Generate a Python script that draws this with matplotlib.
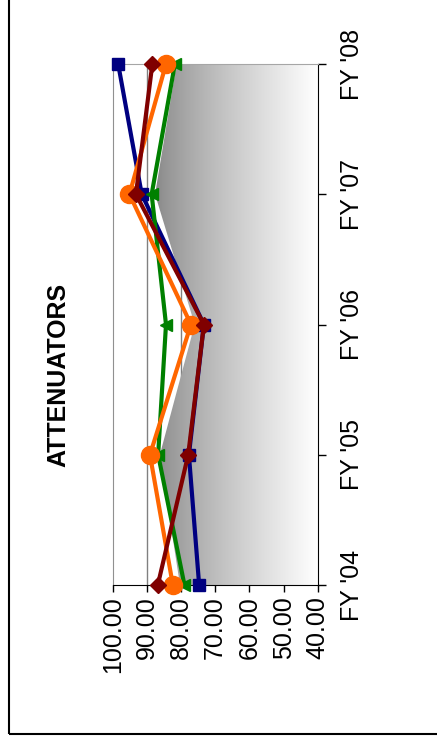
import numpy as np
import matplotlib
matplotlib.use('Agg')
import matplotlib.pyplot as plt
from matplotlib.patches import Polygon, Rectangle

plt.rcParams['font.family'] = ['Liberation Sans', 'DejaVu Sans']

# data
years = ["FY '04", "FY '05", "FY '06", "FY '07", "FY '08"]
navy_vals = [74.7, 77.7, 73.3, 91.5, 98.4]
green_vals = [79.0, 86.7, 84.4, 88.6, 81.8]
orange_vals = [82.4, 89.1, 77.1, 95.1, 84.4]
red_vals = [86.8, 77.9, 73.3, 93.2, 88.4]
area_vals = [80.3, 86.2, 76.0, 87.6, 81.3]
value_ticks = [100, 90, 80, 70, 60, 50, 40]

fig = plt.figure(figsize=(4.37, 7.40), dpi=100)
ax = fig.add_axes([112.7/437, 1-585/740, (317.7-112.7)/437, (585-64)/740])

pos = np.arange(len(years))

# gridlines
for v in value_ticks[1:-1]:
    ax.axvline(v, color='#808080', lw=1, zorder=0.2)

# gradient area (from 40 baseline up to area_vals)
verts = list(zip(area_vals, pos)) + [(40, pos[-1]), (40, pos[0])]
poly = Polygon(verts, closed=True, facecolor='none', edgecolor='none')
ax.add_patch(poly)
t = np.linspace(0, 1, 256) ** 0.8
grad = (0.53 + 0.47 * t)[None, :]
im = ax.imshow(np.dstack([grad, grad, grad]), extent=(max(area_vals), 40, 0, 4),
               aspect='auto', zorder=0.5, interpolation='bilinear')
im.set_clip_path(poly)

lw = 3
ax.plot(navy_vals, pos, color='#000080', lw=lw, marker='s', ms=9, clip_on=False, zorder=3)
ax.plot(green_vals, pos, color='#008000', lw=lw, marker='<', ms=9, clip_on=False, zorder=4)
ax.plot(orange_vals, pos, color='#FF6600', lw=lw, marker='o', ms=13, clip_on=False, zorder=5)
ax.plot(red_vals, pos, color='#800000', lw=lw, marker='D', ms=8, clip_on=False, zorder=6)

ax.set_xlim(100, 40)
ax.set_ylim(0, 4)

ax.set_xticks(value_ticks)
ax.set_xticklabels(['%.2f' % v for v in value_ticks], rotation=90, fontsize=18)
ax.tick_params(axis='x', direction='out', length=5, width=1, pad=3)

ax.yaxis.tick_right()
ax.set_yticks(pos)
ax.set_yticklabels(years, rotation=90, fontsize=18, va='center')
ax.tick_params(axis='y', direction='out', length=6, width=1, pad=10)
ax.tick_params(axis='y', left=False)

ax.spines['left'].set_color('#909090')
ax.spines['top'].set_color('#a6a6a6')
ax.spines['bottom'].set_color('black')
ax.spines['right'].set_color('black')
for s in ax.spines.values():
    s.set_zorder(2.5)

fig.text(58/437, 365/740, 'ATTENUATORS', rotation=90, fontsize=18, fontweight='bold',
         ha='center', va='center')

# chart frame
fig.patches.append(Rectangle((8.5/437, 6/740), 1.2, 1.2, transform=fig.transFigure,
                             fill=False, edgecolor='black', lw=1.5))

fig.savefig('out.png', dpi=100)
